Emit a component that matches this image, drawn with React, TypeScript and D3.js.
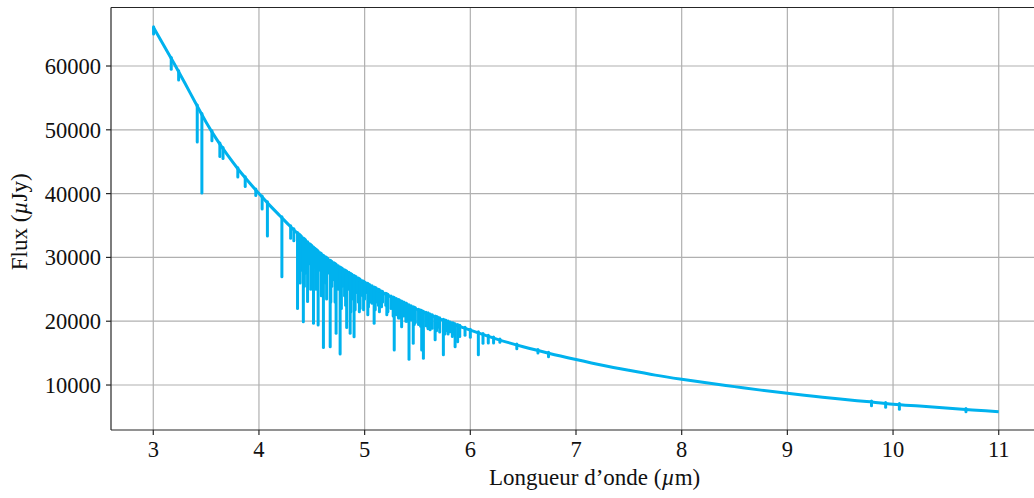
import React from "react";
import * as d3 from "d3";

// Continuum of the spectrum: [wavelength (µm), flux (µJy)]
const continuum: [number, number][] = [
  [3.0, 66100], [3.1, 63200], [3.2, 60300], [3.3, 57300], [3.4, 54200],
  [3.5, 51200], [3.6, 48500], [3.7, 46100], [3.8, 43900], [3.9, 41900], [4.0, 40000],
  [4.1, 38200], [4.2, 36500], [4.3, 34800], [4.4, 33200], [4.5, 31700], [4.6, 30300],
  [4.7, 29100], [4.8, 28000], [4.9, 27000], [5.0, 26000], [5.25, 23800], [5.5, 21800],
  [5.75, 20100], [6.0, 18600], [6.25, 17200], [6.5, 16000], [6.75, 14950], [7.0, 14000],
  [7.25, 13100], [7.5, 12300], [7.75, 11550], [8.0, 10900], [8.25, 10300], [8.5, 9750],
  [8.75, 9200], [9.0, 8700], [9.25, 8250], [9.5, 7800], [9.75, 7400], [10.0, 7000],
  [10.25, 6700], [10.5, 6400], [10.75, 6100], [11.0, 5800],
];

// Absorption lines: [wavelength (µm), minimum flux (µJy)]
const strongLines: [number, number][] = [
  [3.003, 65000], [3.17, 59500], [3.24, 57800], [3.416, 48100], [3.46, 40100], [3.555, 48300],
  [3.63, 45800], [3.66, 45500], [3.8, 42600], [3.87, 41100], [3.97, 39700],
  [4.03, 37600], [4.08, 33350], [4.217, 26970], [4.3, 33000], [4.33, 32600],
  [4.365, 22000], [4.42, 19900], [4.46, 23100], [4.516, 19700], [4.56, 19400],
  [4.61, 15900], [4.674, 16000], [4.73, 18100], [4.768, 14860], [4.83, 19000],
  [4.863, 18100], [4.9, 17570], [4.957, 22000], [5.036, 22250], [5.09, 19700],
  [5.16, 22250], [5.28, 15500], [5.35, 19150], [5.42, 14030], [5.46, 16540],
  [5.54, 15500], [5.556, 14200], [5.62, 18650], [5.667, 17100], [5.745, 14750],
  [5.81, 18350], [5.856, 16000], [5.88, 16800], [6.076, 14750], [6.12, 16540],
  [6.17, 16600], [6.22, 16600], [6.28, 16700], [6.44, 15700], [6.64, 15000],
  [6.74, 14450], [9.796, 6750], [9.93, 6500], [10.06, 6200], [10.69, 5800],
];

const mediumLines: [number, number][] = [
  [4.39, 26000], [4.43, 25500], [4.49, 25000], [4.54, 25000], [4.59, 24000],
  [4.64, 23500], [4.68, 23000], [4.72, 23000], [4.78, 22000], [4.82, 22500],
  [4.87, 21500], [4.91, 21800], [4.95, 21500], [4.99, 21800], [5.03, 21000],
  [5.1, 21800], [5.14, 21500], [5.21, 21000], [5.27, 20800], [5.33, 20500],
  [5.4, 20000], [5.47, 19500], [5.53, 19200], [5.6, 18800], [5.68, 18500],
  [5.76, 18000], [5.83, 17600],
];

const weakLines: [number, number][] = [
  [4.38, 29500], [4.4, 28000], [4.44, 27500], [4.48, 29000], [4.5, 27000],
  [4.53, 28500], [4.55, 26500], [4.58, 28000], [4.63, 26000], [4.65, 27500],
  [4.69, 25500], [4.71, 26500], [4.75, 25000], [4.79, 25500], [4.81, 24000],
  [4.85, 25000], [4.88, 23500], [4.92, 24500], [4.94, 23000], [4.98, 24000],
  [5.0, 23500], [5.02, 24500], [5.05, 23000], [5.07, 22800], [5.11, 23000],
  [5.13, 22500], [5.17, 23000], [5.2, 22500], [5.22, 21500], [5.25, 22000],
  [5.3, 21000], [5.32, 20500], [5.37, 20800], [5.39, 20000], [5.44, 20200],
  [5.48, 19800], [5.51, 19500], [5.58, 19300], [5.6, 19000], [5.64, 18900],
  [5.69, 19000], [5.71, 18300], [5.77, 18500], [5.79, 18000], [5.84, 18000],
  [5.9, 17600], [5.95, 17800], [6.0, 17500],
];

const xTicks = [3, 4, 5, 6, 7, 8, 9, 10, 11];
const yTicks = [10000, 20000, 30000, 40000, 50000, 60000];

const W = 1034;
const H = 498;
const LEFT = 111;
const RIGHT = 1041;
const TOP = 7.5;
const BOTTOM = 430;
const COLOR = "#00b2ee";
const FONT = "'Liberation Serif', 'DejaVu Serif', serif";

export default function App() {
  const x = d3.scaleLinear().domain([2.6, 11.4]).range([LEFT, RIGHT]);
  const y = d3.scaleLinear().domain([2950, 69170]).range([BOTTOM, TOP]);

  const line = d3
    .line<[number, number]>()
    .x((d) => x(d[0]))
    .y((d) => y(d[1]))
    .curve(d3.curveMonotoneX);

  const contAt = d3
    .scaleLinear()
    .domain(continuum.map((d) => d[0]))
    .range(continuum.map((d) => d[1]));

  const spikes = [...weakLines, ...mediumLines, ...strongLines];

  return (
    <svg
      width={W}
      height={H}
      style={{ position: "absolute", left: 0, top: 0, background: "#fff" }}
      fontFamily={FONT}
    >
      <defs>
        <clipPath id="plot">
          <rect x={LEFT} y={TOP} width={RIGHT - LEFT} height={BOTTOM - TOP} />
        </clipPath>
      </defs>
      {/* grid */}
      {xTicks.map((t) => (
        <line key={"gx" + t} x1={x(t)} x2={x(t)} y1={TOP} y2={BOTTOM} stroke="#b0b0b0" strokeWidth={1.2} />
      ))}
      {yTicks.map((t) => (
        <line key={"gy" + t} x1={LEFT} x2={RIGHT} y1={y(t)} y2={y(t)} stroke="#b0b0b0" strokeWidth={1.2} />
      ))}
      {/* data */}
      <g clipPath="url(#plot)">
        {spikes.map((d, i) => (
          <line
            key={"s" + i}
            x1={x(d[0])}
            x2={x(d[0])}
            y1={y(contAt(d[0])) - 1}
            y2={y(d[1])}
            stroke={COLOR}
            strokeWidth={3}
            strokeLinecap="round"
          />
        ))}
        <path d={line(continuum) || ""} fill="none" stroke={COLOR} strokeWidth={3} strokeLinejoin="round" />
      </g>
      {/* spines */}
      <line x1={LEFT} x2={LEFT} y1={TOP} y2={BOTTOM} stroke="#262626" strokeWidth={1.2} />
      <line x1={LEFT} x2={RIGHT} y1={BOTTOM} y2={BOTTOM} stroke="#262626" strokeWidth={1.2} />
      <line x1={LEFT} x2={RIGHT} y1={TOP} y2={TOP} stroke="#262626" strokeWidth={1.2} />
      <line x1={RIGHT} x2={RIGHT} y1={TOP} y2={BOTTOM} stroke="#262626" strokeWidth={1.2} />
      {/* x ticks */}
      {xTicks.map((t) => (
        <g key={"xt" + t}>
          <line x1={x(t)} x2={x(t)} y1={BOTTOM} y2={BOTTOM + 5} stroke="#262626" strokeWidth={1.2} />
          <text x={x(t)} y={BOTTOM + 27} textAnchor="middle" fontSize={22.5} fill="#111">
            {t}
          </text>
        </g>
      ))}
      {/* y ticks */}
      {yTicks.map((t) => (
        <g key={"yt" + t}>
          <line x1={LEFT - 5} x2={LEFT} y1={y(t)} y2={y(t)} stroke="#262626" strokeWidth={1.2} />
          <text x={LEFT - 10} y={y(t) + 8} textAnchor="end" fontSize={22.5} fill="#111">
            {t}
          </text>
        </g>
      ))}
      {/* axis labels */}
      <text x={489} y={485} fontSize={23} fill="#111">
        Longueur d’onde (<tspan fontStyle="italic">µ</tspan>m)
      </text>
      <text
        transform={`translate(27, ${(TOP + BOTTOM) / 2 + 3}) rotate(-90)`}
        textAnchor="middle"
        fontSize={23}
        fill="#111"
      >
        Flux (<tspan fontStyle="italic">µ</tspan>Jy)
      </text>
    </svg>
  );
}
